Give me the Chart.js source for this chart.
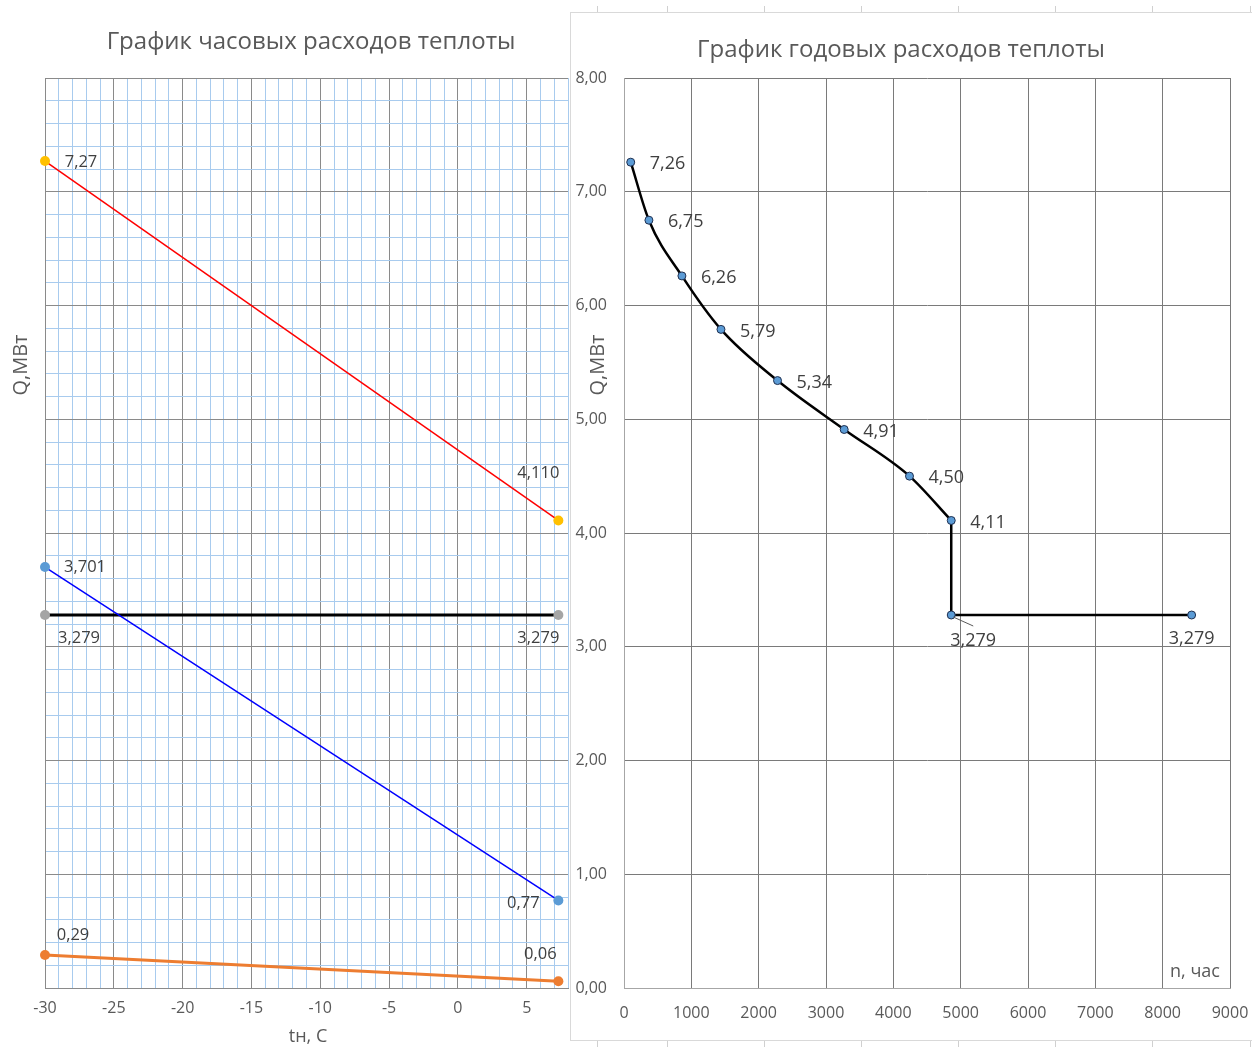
<!DOCTYPE html>
<html>
<head>
<meta charset="utf-8">
<title>Графики расходов теплоты</title>
<script src="https://cdn.jsdelivr.net/npm/chart.js@4.4.1/dist/chart.umd.min.js"></script>
<style>
  html, body { margin: 0; padding: 0; background: #fff; }
  body { width: 1252px; height: 1048px; position: relative; overflow: hidden; }
  #hourWrap { position: absolute; left: 0; top: 0; width: 575px; height: 1048px; }
  #yearPanel { position: absolute; left: 570px; top: 12px; width: 700px; height: 1027px; border: 1px solid #d9d9d9; background: #fff; }
  #yearWrap { position: absolute; left: 0; top: 0; width: 681px; height: 1027px; }
  .cell { position: absolute; width: 1px; height: 6px; background: #d0d0d0; }
</style>
</head>
<body>
<div id="hourWrap"><canvas id="hourChart"></canvas></div>
<div id="yearPanel"><div id="yearWrap"><canvas id="yearChart"></canvas></div></div>
<script>
// --- hourly chart data (outdoor temperature vs heat load) ---
const tOut = [-30, 7.3];
const qHeating = [7.27, 4.11];
const qHeatingLabels = ['7,27', '4,110'];
const qVent = [3.701, 0.77];
const qVentLabels = ['3,701', '0,77'];
const qHotWater = [3.279, 3.279];
const qHotWaterLabels = ['3,279', '3,279'];
const qLow = [0.29, 0.06];
const qLowLabels = ['0,29', '0,06'];
const hourXTicks = ['-30', '-25', '-20', '-15', '-10', '-5', '0', '5'];

// --- annual chart data (hours vs heat load) ---
const hours = [100, 370, 860, 1440, 2280, 3270, 4240, 4860];
const qYear = [7.26, 6.75, 6.26, 5.79, 5.34, 4.91, 4.50, 4.11];
const qYearLabels = ['7,26', '6,75', '6,26', '5,79', '5,34', '4,91', '4,50', '4,11'];
const summerHours = [4860, 4860, 8430];
const summerQ = [4.11, 3.279, 3.279];
const summerLabels = [null, '3,279', '3,279'];

const FONT = '"Open Sans", "Noto Sans", sans-serif';
const TXT = '#595959';

// spreadsheet cell marks around the second chart
const sheetCols = [597, 667, 764, 861, 958, 1055, 1152, 1250];
sheetCols.forEach(x => {
  [6, 1041].forEach(y => {
    const d = document.createElement('div');
    d.className = 'cell';
    d.style.left = x + 'px';
    d.style.top = y + 'px';
    document.body.appendChild(d);
  });
});

const pts = (xs, ys) => xs.map((x, i) => ({ x: x, y: ys[i] }));
const isMult = (v, step) => Math.abs(v / step - Math.round(v / step)) < 1e-6;

// fixed axis size, no extra side padding for edge labels
const fixHeight = h => s => { s.height = h; s.paddingLeft = 0; s.paddingRight = 0; };

// free text: titles and axis names
function textLayer(items) {
  return {
    id: 'textLayer',
    afterDraw(chart) {
      const ctx = chart.ctx;
      items.forEach(it => {
        ctx.save();
        ctx.translate(it.x, it.y);
        if (it.rotate) ctx.rotate(it.rotate);
        ctx.font = it.font;
        ctx.fillStyle = TXT;
        ctx.textAlign = 'center';
        ctx.textBaseline = 'middle';
        ctx.fillText(it.text, 0, 0);
        ctx.restore();
      });
    }
  };
}

// data labels next to points
const pointLabels = {
  id: 'pointLabels',
  afterDatasetsDraw(chart) {
    const ctx = chart.ctx;
    chart.data.datasets.forEach((ds, i) => {
      if (!ds.labels) return;
      const meta = chart.getDatasetMeta(i);
      meta.data.forEach((pt, j) => {
        const text = ds.labels[j];
        if (!text) return;
        const pos = ds.labelPos[j];
        ctx.save();
        if (ds.leader && ds.leader[j]) {
          const l = ds.leader[j];
          ctx.strokeStyle = '#595959';
          ctx.lineWidth = 1;
          ctx.beginPath();
          ctx.moveTo(pt.x + l[0], pt.y + l[1]);
          ctx.lineTo(pt.x + l[2], pt.y + l[3]);
          ctx.stroke();
        }
        ctx.font = ds.labelFont;
        ctx.fillStyle = '#404040';
        ctx.textAlign = pos[2] || 'center';
        ctx.textBaseline = 'middle';
        ctx.fillText(text, pt.x + pos[0], pt.y + pos[1]);
        ctx.restore();
      });
    });
  }
};

function hourSeries(ys, labels, line, point, width, labelPos) {
  return {
    data: pts(tOut, ys),
    borderColor: line,
    borderWidth: width,
    pointRadius: 5,
    pointBackgroundColor: point,
    pointBorderColor: point,
    pointBorderWidth: 0,
    clip: false,
    labels: labels,
    labelPos: labelPos,
    labelFont: '16.5px ' + FONT
  };
}

new Chart(document.getElementById('hourChart'), {
  type: 'line',
  data: {
    datasets: [
      hourSeries(qHeating, qHeatingLabels, '#ff0000', '#ffc000', 1.5, [[36, 1], [-20, -47]]),
      hourSeries(qVent, qVentLabels, '#0000ff', '#5b9bd5', 1.5, [[40, 0], [-35, 3]]),
      hourSeries(qHotWater, qHotWaterLabels, '#000000', '#a5a5a5', 3, [[34, 23], [-20, 23]]),
      hourSeries(qLow, qLowLabels, '#ed7d31', '#ed7d31', 3, [[28, -20], [-18, -27]])
    ]
  },
  options: {
    responsive: true,
    maintainAspectRatio: false,
    animation: false,
    layout: { padding: { top: 78, right: 7, left: 0, bottom: 0 } },
    plugins: { legend: { display: false }, title: { display: false }, tooltip: { enabled: false } },
    scales: {
      x: {
        type: 'linear',
        min: -30,
        max: 8,
        afterFit: fixHeight(60),
        ticks: {
          stepSize: 1,
          autoSkip: false,
          maxRotation: 0,
          padding: 11,
          color: TXT,
          font: { family: FONT, size: 16 },
          callback: v => (isMult(v, 5) && hourXTicks.includes(String(v))) ? String(v) : ''
        },
        grid: {
          drawTicks: false,
          lineWidth: 1,
          color: c => isMult(c.tick.value, 5) ? '#8a8a8a' : '#a8cbee'
        },
        border: { color: '#8a8a8a' }
      },
      y: {
        min: 0,
        max: 8,
        afterFit: s => { s.width = 45; },
        ticks: { stepSize: 0.2, display: false },
        grid: {
          drawTicks: false,
          lineWidth: 1,
          color: c => isMult(c.tick.value, 1) ? '#8a8a8a' : '#a8cbee'
        },
        border: { color: '#8a8a8a' }
      }
    }
  },
  plugins: [pointLabels, textLayer([
    { text: 'График часовых расходов теплоты', x: 311, y: 42, font: '24px ' + FONT },
    { text: 'Q,МВт', x: 21, y: 365, font: '20px ' + FONT, rotate: -Math.PI / 2 },
    { text: 'tн, С', x: 308, y: 1037, font: '18px ' + FONT }
  ])]
});

new Chart(document.getElementById('yearChart'), {
  type: 'line',
  data: {
    datasets: [
      {
        data: pts(hours, qYear),
        borderColor: '#000000',
        borderWidth: 2.5,
        tension: 0.4,
        cubicInterpolationMode: 'monotone',
        pointRadius: 4,
        pointBackgroundColor: '#5b9bd5',
        pointBorderColor: '#1f2f4f',
        pointBorderWidth: 1,
        clip: false,
        labels: qYearLabels,
        labelPos: qYearLabels.map(() => [19, 2, 'left']),
        labelFont: '18px ' + FONT
      },
      {
        data: pts(summerHours, summerQ),
        borderColor: '#000000',
        borderWidth: 2.5,
        tension: 0,
        pointRadius: [0, 4, 4],
        pointBackgroundColor: '#5b9bd5',
        pointBorderColor: '#1f2f4f',
        pointBorderWidth: 1,
        clip: false,
        labels: summerLabels,
        labelPos: [null, [22, 26], [0, 24]],
        leader: [null, [2, 2, 22, 11], null],
        labelFont: '18px ' + FONT
      }
    ]
  },
  options: {
    responsive: true,
    maintainAspectRatio: false,
    animation: false,
    layout: { padding: { top: 65, right: 22, left: 0, bottom: 0 } },
    plugins: { legend: { display: false }, title: { display: false }, tooltip: { enabled: false } },
    scales: {
      x: {
        type: 'linear',
        min: 0,
        max: 9000,
        afterFit: fixHeight(52),
        ticks: {
          stepSize: 1000,
          maxRotation: 0,
          autoSkip: false,
          padding: 16,
          color: TXT,
          font: { family: FONT, size: 16 },
          callback: v => String(v)
        },
        grid: { drawTicks: false, color: '#7a7a7a', lineWidth: 1 },
        border: { color: '#a6a6a6' }
      },
      y: {
        min: 0,
        max: 8,
        afterFit: s => { s.width = 53; },
        ticks: {
          stepSize: 1,
          padding: 17,
          color: TXT,
          font: { family: FONT, size: 16 },
          callback: v => v.toFixed(2).replace('.', ',')
        },
        grid: { drawTicks: false, color: '#7a7a7a', lineWidth: 1 },
        border: { color: '#a6a6a6' }
      }
    }
  },
  plugins: [pointLabels, textLayer([
    { text: 'График годовых расходов теплоты', x: 330, y: 37, font: '24px ' + FONT },
    { text: 'Q,МВт', x: 27, y: 352, font: '20px ' + FONT, rotate: -Math.PI / 2 },
    { text: 'n, час', x: 624, y: 959, font: '18px ' + FONT }
  ])]
});
</script>
</body>
</html>
